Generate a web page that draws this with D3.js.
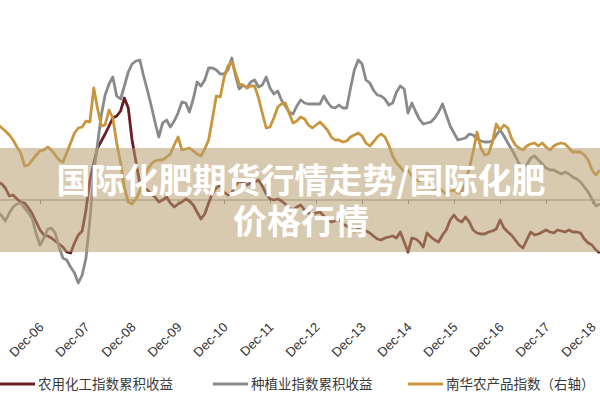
<!DOCTYPE html>
<meta charset="utf-8">
<style>
body { margin: 0; background: #fff; }
svg { display: block; }
.xlab text { font: 13px "Liberation Sans", Arial, sans-serif; fill: #333; }
.legend text { font: 13.5px "Noto Sans CJK SC", sans-serif; fill: #3a3a3a; }
.banner text { font-family: "Noto Sans CJK SC", sans-serif; font-weight: bold; font-size: 34px; fill: #fff; }
</style>
<svg width="600" height="400"></svg>
<script src="https://cdn.jsdelivr.net/npm/d3@7"></script>
<script>

// monthly, Jan-2006 .. Feb-2019
var startMonth = new Date(2006, 0, 1);

// 农用化工指数累积收益 (%), left axis
var agroChem = [18,16,12,4,5,1,-2,-3,-8,-14,-22,-30,-35,-36,-38,-41,-44,-47,-52,-53,
  -43,-35,-31,-10,20,37,52,59,66,74,82,84,89,102,92,60,38,16,12,10,
  6,3,-2,0,3,-3,-7,-4,-2,1,-1,-5,-12,-19,-14,-3,7,12,15,8,
  5,7,14,19,17,15,17,18,20,14,6,1,0,1,-1,-4,-8,-10,-7,-5,
  -10,-13,-15,-13,-12,-16,-19,-22,-21,-20,-24,-26,-29,-31,-29,-30,-31,-33,-36,-39,
  -40,-38,-37,-36,-38,-32,-42,-52,-38,-39,-42,-47,-33,-37,-40,-42,-35,-30,-20,-15,
  -20,-22,-17,-22,-30,-33,-34,-34,-32,-31,-29,-20,-28,-32,-35,-40,-45,-48,-40,-32,
  -35,-34,-32,-30,-32,-33,-30,-31,-32,-30,-32,-32,-33,-39,-43,-45,-50,-53];

// 种植业指数累积收益 (%), left axis
var planting = [-12,-16,-21,-13,-7,-4,-3,-8,-13,-19,-34,-45,-38,-29,-28,-33,-47,-58,-60,-67,
  -73,-83,-75,-58,-20,28,55,85,105,116,123,104,101,114,128,136,139,140,125,110,
  95,78,63,77,80,73,79,87,98,97,88,101,118,114,120,132,132,130,126,126,
  130,142,125,111,115,112,118,120,113,115,123,112,106,109,100,94,88,86,94,100,
  97,96,96,96,96,104,98,93,92,95,92,92,112,130,140,136,120,117,110,105,
  104,101,95,97,108,114,111,87,97,88,81,76,77,78,82,88,96,85,74,67,
  60,61,62,66,65,61,59,58,58,59,65,70,64,57,51,44,36,34,35,42,
  44,40,36,32,30,30,28,26,28,26,23,21,18,13,8,1,-6,-4];

// 南华农产品指数, right axis
var nanhuaAgri = [1050,1044,1038,1030,1020,1006,994,968,970,980,990,998,1000,1006,1000,990,980,976,994,1014,
  1034,1044,1046,1058,1056,1124,1084,1048,1050,1080,1064,1014,974,924,896,892,902,918,942,960,
  972,978,980,980,986,992,1010,1026,1000,1002,1004,998,992,988,1002,1020,1064,1108,1106,1144,
  1168,1176,1156,1132,1130,1124,1128,1128,1104,1074,1044,1046,1064,1086,1092,1094,1074,1054,1058,1066,
  1062,1050,1044,1050,1056,1048,1040,1026,1020,1020,1016,1018,1026,1030,1034,1028,1014,1008,1016,1026,
  1032,1026,1010,988,974,966,956,960,948,940,938,944,932,924,922,926,918,912,918,920,
  914,916,934,964,996,1036,1004,990,992,1016,1052,1040,1050,1044,1024,1010,1004,1000,1008,1012,
  1014,1008,1014,1006,1000,1008,1012,1014,1012,1004,996,996,996,990,980,960,950,960];

var tickYears = [2006,2007,2008,2009,2010,2011,2012,2013,2014,2015,2016,2017,2018];

var seriesNames = ["农用化工指数累积收益", "种植业指数累积收益", "南华农产品指数（右轴）"];
var seriesColors = ["#6b1e24", "#8a8a8a", "#c9963e"];

var titleLines = ["国际化肥期货行情走势/国际化肥", "价格行情"];

var svg = d3.select("svg"),
    width = +svg.attr("width"),
    height = +svg.attr("height");

var x = d3.scaleTime()
    .domain([new Date(2006, 11, 1), new Date(2018, 11, 1)])
    .range([40, 592]);

var yLeft = d3.scaleLinear().domain([-100, 200]).range([300, 0]);
var yRight = d3.scaleLinear().domain([700, 1300]).range([300, 0]);

function monthDate(i) {
  return d3.timeMonth.offset(startMonth, i);
}

var tickDates = tickYears.map(function(y) { return new Date(y, 11, 1); });

// zero line with year ticks
var zeroAxis = svg.append("g")
    .attr("transform", "translate(0," + yLeft(0) + ")")
    .call(d3.axisBottom(x).tickValues(tickDates).tickSize(4).tickFormat(""));
zeroAxis.select(".domain").remove();
zeroAxis.selectAll("line").attr("stroke", "#8c8c8c");
zeroAxis.append("line")
    .attr("x1", 0).attr("x2", width)
    .attr("stroke", "#8c8c8c");

// lines
function drawLine(values, scale, color) {
  var line = d3.line()
      .x(function(d, i) { return x(monthDate(i)); })
      .y(function(d) { return scale(d); });
  svg.append("path")
      .datum(values)
      .attr("fill", "none")
      .attr("stroke", color)
      .attr("stroke-width", 2.8)
      .attr("stroke-linejoin", "round")
      .attr("d", line);
}

drawLine(agroChem, yLeft, seriesColors[0]);
drawLine(planting, yLeft, seriesColors[1]);
drawLine(nanhuaAgri, yRight, seriesColors[2]);

// x labels
var xLab = svg.append("g")
    .attr("class", "xlab")
    .attr("transform", "translate(4,328)")
    .call(d3.axisBottom(x).tickValues(tickDates).tickSize(0).tickFormat(d3.timeFormat("%b-%y")));
xLab.select(".domain").remove();
xLab.selectAll("text")
    .attr("y", 0)
    .attr("dy", 0)
    .attr("text-anchor", "end")
    .attr("transform", "rotate(-45)");

// legend
var legendX = [0, 213, 408];
var legend = svg.append("g").attr("class", "legend");
seriesNames.forEach(function(name, i) {
  legend.append("line")
      .attr("x1", legendX[i]).attr("x2", legendX[i] + 35)
      .attr("y1", 384).attr("y2", 384)
      .attr("stroke", seriesColors[i])
      .attr("stroke-width", 3);
  legend.append("text")
      .attr("x", legendX[i] + 38)
      .attr("y", 384)
      .attr("dy", "0.35em")
      .text(name);
});

// title banner, one text block with two lines
var banner = svg.append("g").attr("class", "banner");
banner.append("rect")
    .attr("x", 0).attr("y", 148)
    .attr("width", width).attr("height", 104)
    .attr("fill", "rgb(182,158,111)")
    .attr("fill-opacity", 0.55);
banner.append("text")
    .attr("text-anchor", "middle")
    .selectAll("tspan")
    .data(titleLines)
    .enter().append("tspan")
    .attr("x", 301)
    .attr("y", function(d, i) { return 193 + i * 41; })
    .text(function(d) { return d; });

</script>
